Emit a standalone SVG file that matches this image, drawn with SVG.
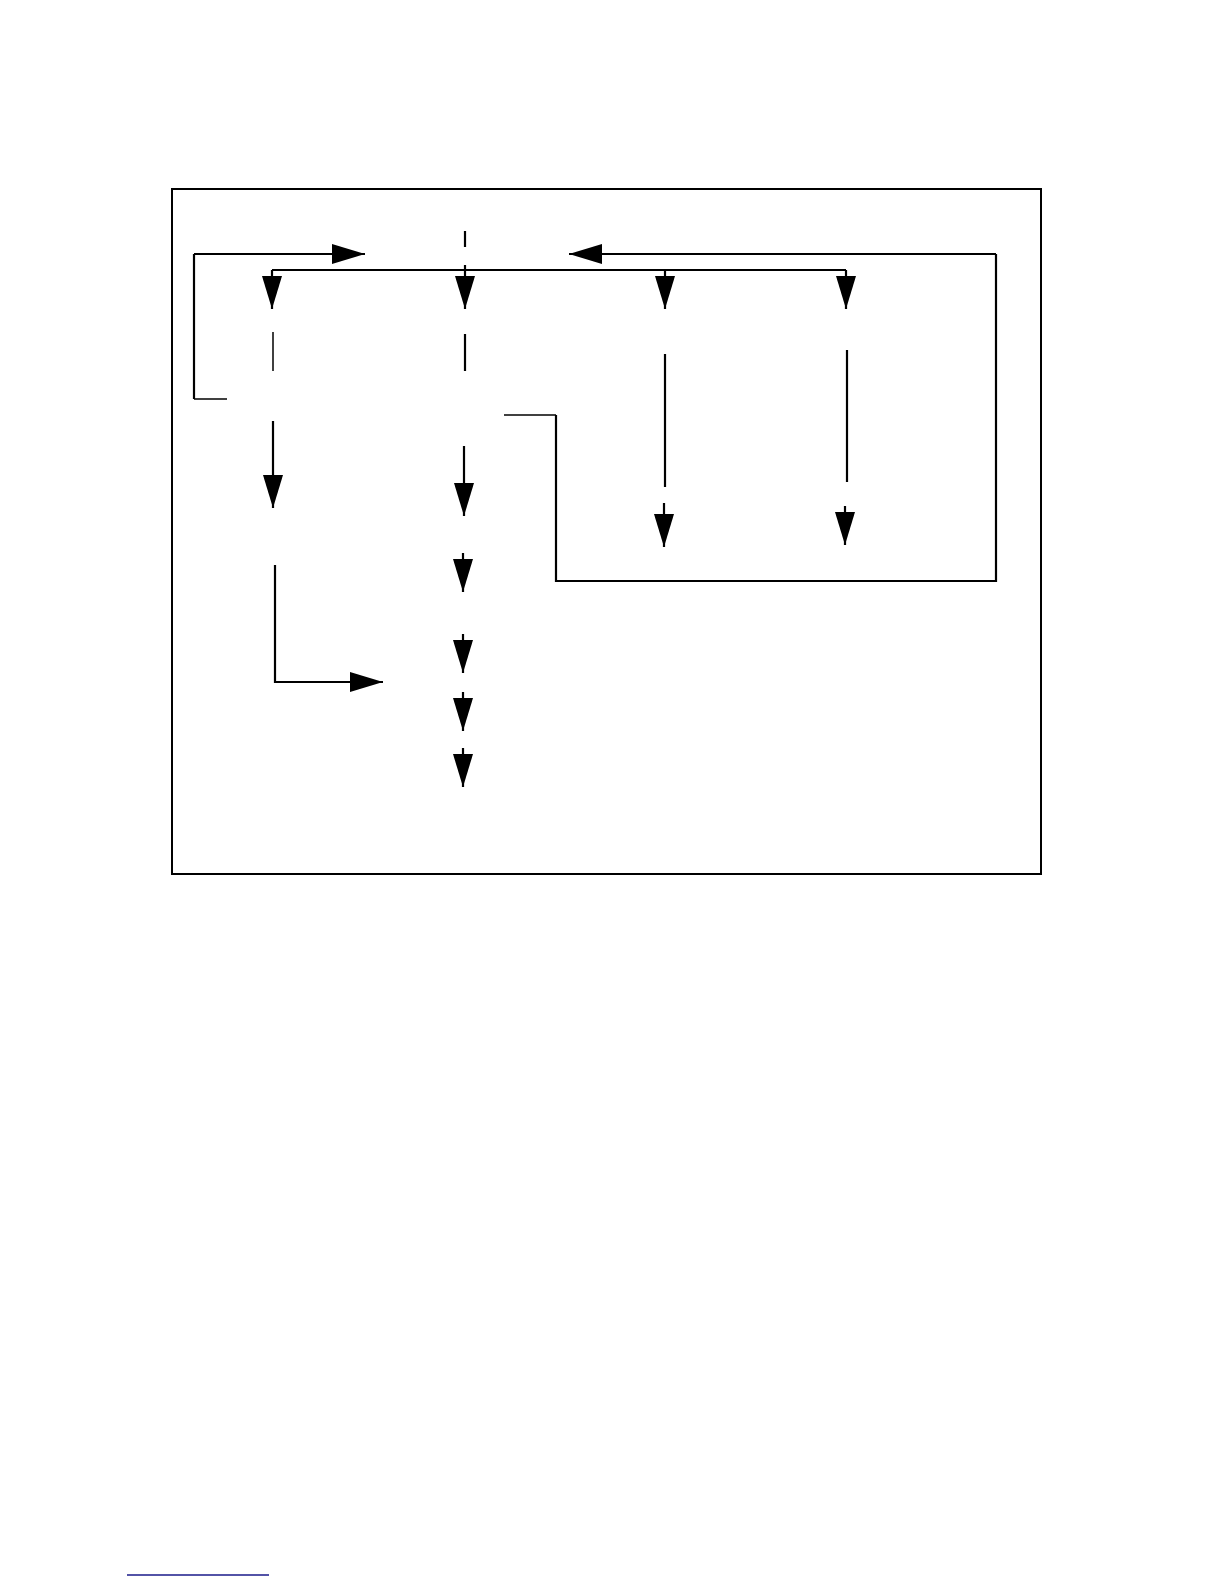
<svg xmlns="http://www.w3.org/2000/svg" width="1224" height="1584" viewBox="0 0 1224 1584">
<style>
.ln{fill:none;stroke:#000;stroke-width:2.2}
.th{fill:none;stroke:#000;stroke-width:1.5}
.ar{marker-end:url(#ah)}
</style>
<defs>
<marker id="ah" markerUnits="userSpaceOnUse" markerWidth="36" markerHeight="22" refX="33" refY="10" orient="auto">
<path d="M0,0 L33,10 L0,20 Z" fill="#000"/>
</marker>
</defs>
<rect width="1224" height="1584" fill="#fff"/>
<g id="frame">
<rect x="172" y="189" width="869" height="685" fill="none" stroke="#000" stroke-width="2"/>
</g>
<g id="connectors">
<path class="ln ar" d="M194,254 L365,254"/>
<path class="ln" d="M194,254 L194,399"/>
<path class="th" d="M194,399 L227,399"/>
<path class="ln" d="M465,231 L465,247"/>
<path class="ln" d="M272,270 L846,270"/>
<path class="ln ar" d="M272,270 L272,309"/>
<path class="ln ar" d="M465,265 L465,309"/>
<path class="ln ar" d="M665,270 L665,309"/>
<path class="ln ar" d="M846,270 L846,309"/>
<path class="ln ar" d="M996,254 L569,254"/>
<path class="ln" d="M996,254 L996,581 L556,581 L556,415"/>
<path class="th" d="M556,415 L504,415"/>
<path class="th" d="M273,332 L273,371"/>
<path class="ln" d="M465,334 L465,371"/>
<path class="ln ar" d="M273,421 L273,508"/>
<path class="ln ar" d="M464,446 L464,516"/>
<path class="ln" d="M665,354 L665,487"/>
<path class="ln ar" d="M664,503 L664,547"/>
<path class="ln" d="M847,350 L847,482"/>
<path class="ln ar" d="M845,506 L845,545"/>
<path class="ln ar" d="M463,553 L463,592"/>
<path class="ln ar" d="M463,634 L463,673"/>
<path class="ln ar" d="M463,692 L463,731"/>
<path class="ln ar" d="M463,748 L463,787"/>
<path class="ln ar" d="M275,565 L275,682 L383,682"/>
</g>
<g id="footer">
<line x1="127" y1="1575" x2="269" y2="1575" stroke="#1a1a8a" stroke-width="1.5"/>
</g>
</svg>
